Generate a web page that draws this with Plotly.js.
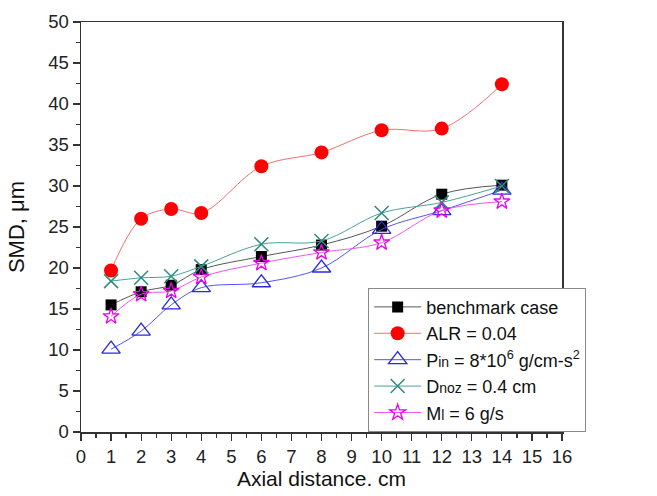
<!DOCTYPE html>
<html><head><meta charset="utf-8">
<script src="https://cdn.plot.ly/plotly-3.0.1.min.js"></script>
<style>body{margin:0;background:#fff}#chart{width:657px;height:496px}</style>
</head><body><div id="chart"></div>
<script>
const xDist = [1, 2, 3, 4, 6, 8, 10, 12, 14];
const benchmark = [15.5, 17.1, 17.9, 19.8, 21.4, 22.8, 25.1, 29.0, 30.1];
const alr = [19.7, 26.0, 27.2, 26.7, 32.4, 34.1, 36.8, 37.0, 42.4];
const pin = [10.1, 12.3, 15.5, 17.6, 18.2, 20.0, 24.7, 27.0, 29.5];
const dnoz = [18.4, 18.8, 19.0, 20.2, 22.9, 23.3, 26.7, 28.0, 30.0];
const ml = [14.1, 16.8, 17.2, 18.9, 20.6, 21.9, 23.1, 27.0, 28.1];
const names = ['benchmark case', 'ALR = 0.04',
  'P<span style="font-size:14px">in</span> = 8*10<sup>6</sup> g/cm-s<sup>2</sup>',
  'D<span style="font-size:14px">noz</span> = 0.4 cm',
  'M<span style="font-size:14px">l</span> = 6 g/s'];

const mk = (y, name, lineColor, marker) => ({
  x: xDist, y: y, name: name, type: 'scatter', mode: 'lines+markers',
  line: {color: lineColor, width: 1, shape: 'spline', smoothing: 1},
  marker: marker
});
const data = [
  mk(benchmark, names[0], '#555555', {symbol: 'square', size: 11, color: '#000'}),
  mk(alr, names[1], '#f07070', {symbol: 'circle', size: 14, color: '#ff0000'}),
  mk(pin, names[2], '#5555ee', {symbol: 'triangle-up-open', size: 16, color: '#2a2ae0', line: {width: 1.3}}),
  mk(dnoz, names[3], '#4aa39a', {symbol: 'x-thin-open', size: 14, color: '#2e8b80', line: {width: 1.5}}),
  mk(ml, names[4], '#ee55ee', {symbol: 'star-open', size: 12, color: '#ee00ee', line: {width: 1.3}})
];
const fam = 'Liberation Sans, Arial, sans-serif';
const axisFont = {family: fam, size: 18.5, color: '#222'};
const layout = {
  width: 657, height: 496,
  margin: {l: 81, r: 95, t: 22, b: 64},
  paper_bgcolor: '#fff', plot_bgcolor: '#fff',
  showlegend: true,
  font: {family: fam, color: '#111'},
  xaxis: {
    range: [0, 16], dtick: 1, tick0: 0, showgrid: false, zeroline: false,
    showline: true, linecolor: '#333', linewidth: 1.5, mirror: true,
    ticks: 'outside', ticklen: 7, tickwidth: 1.2, tickcolor: '#333',
    minor: {dtick: 0.5, ticklen: 4, tickcolor: '#333', ticks: 'outside', showgrid: false},
    tickfont: axisFont,
    title: {text: 'Axial distance. cm', font: {family: fam, size: 21, color: '#111'}, standoff: 4}
  },
  yaxis: {
    range: [0, 50], dtick: 5, tick0: 0, showgrid: false, zeroline: false,
    showline: true, linecolor: '#333', linewidth: 1.5, mirror: true,
    ticks: 'outside', ticklen: 7, tickwidth: 1.2, tickcolor: '#333',
    minor: {dtick: 2.5, ticklen: 4, tickcolor: '#333', ticks: 'outside', showgrid: false},
    tickfont: axisFont,
    title: {text: 'SMD, μm', font: {family: fam, size: 22, color: '#111'}, standoff: 17}
  },
  legend: {
    x: 0.597, y: 0.352, xanchor: 'left', yanchor: 'top',
    bgcolor: '#fff', bordercolor: '#888', borderwidth: 1,
    font: {family: fam, size: 18, color: '#111'},
    tracegroupgap: 0, itemwidth: 47
  }
};
Plotly.newPlot('chart', data, layout, {displayModeBar: false, staticPlot: true});
</script></body></html>
